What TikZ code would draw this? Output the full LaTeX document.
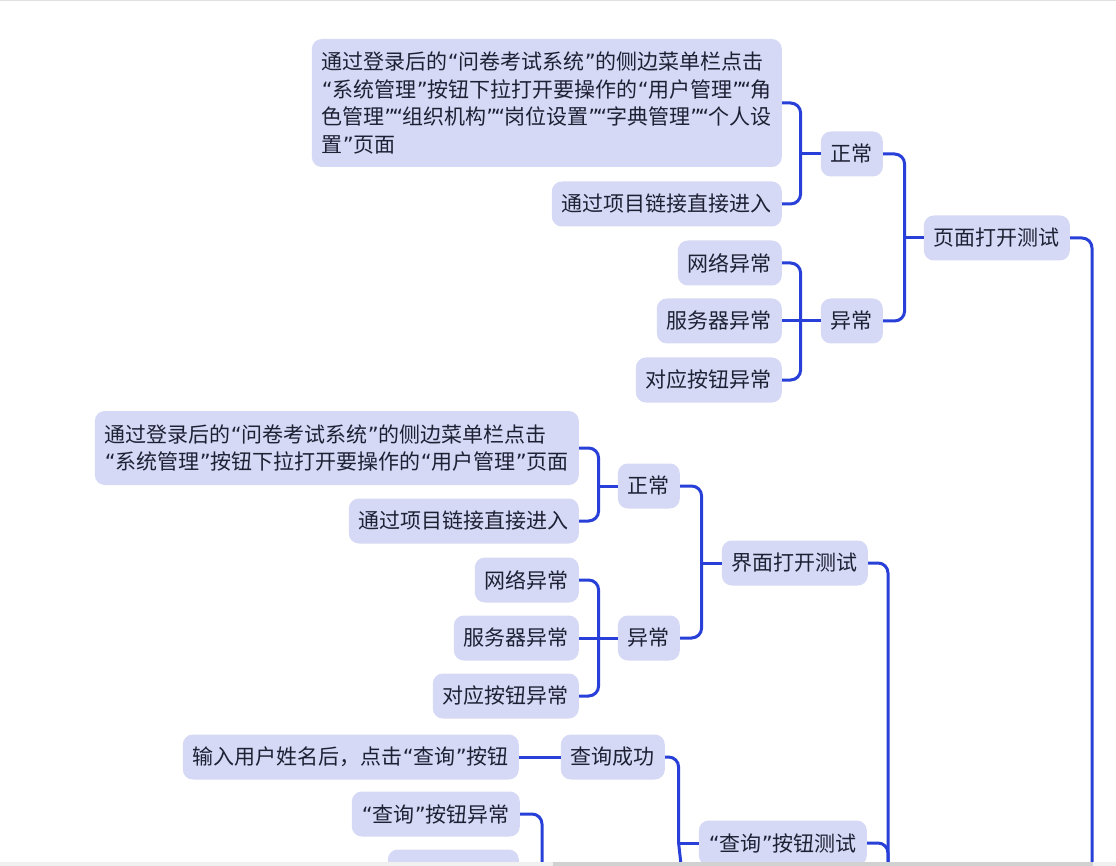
\documentclass[tikz,border=0pt]{standalone}
\usepackage{fontspec}
\setmainfont{Noto Sans CJK SC}
\newfontfamily\quotefont{DejaVu Sans}
\usepackage{xcolor}

\definecolor{boxfill}{RGB}{213,217,245}
\definecolor{linkblue}{RGB}{40,64,216}
\definecolor{textdark}{RGB}{30,32,52}

% quotes as the page shows them
\newcommand{\oq}{\makebox[11pt][r]{\quotefont“}}
\newcommand{\cq}{\makebox[11pt][l]{\quotefont”}}
\newcommand{\cqoq}{\makebox[18pt][c]{\quotefont”\kern-3pt“}}

\begin{document}
\begin{tikzpicture}[x=1pt, y=-1pt,
    topic/.style={fill=boxfill, text=textdark, rounded corners=10pt,
        inner xsep=10pt, inner ysep=0pt, minimum height=45pt,
        font=\fontsize{21}{27.5}\selectfont, anchor=east},
    link/.style={draw=linkblue, line width=3pt, rounded corners=10pt}]

        % Frame
        \useasboundingbox (0,0) rectangle (1116,866);
        \clip (0,0) rectangle (1116,866);

        % 页面打开测试
        \node[topic, align=left, minimum width=466pt, minimum height=128pt] (ymzc1) at (782,103)
            {通过登录后的\oq 问卷考试系统\cq 的侧边菜单栏点击\\
             \oq 系统管理\cq 按钮下拉打开要操作的\oq 用户管理\cqoq 角\\
             色管理\cqoq 组织机构\cqoq 岗位设置\cqoq 字典管理\cqoq 个人设\\
             置\cq 页面};
        \node[topic] (ymzc2) at (782,204) {通过项目链接直接进入};
        \node[topic] (ymzc) at (883,154) {正常};
        \node[topic] (ymyc1) at (782,263) {网络异常};
        \node[topic] (ymyc2) at (782,321) {服务器异常};
        \node[topic] (ymyc3) at (782,380) {对应按钮异常};
        \node[topic] (ymyc) at (883,321) {异常};
        \node[topic] (ym) at (1070,238) {页面打开测试};

        \coordinate (ymzcj) at ([xshift=-20pt]ymzc.west);
        \coordinate (ymycj) at ([xshift=-20pt]ymyc.west);
        \coordinate (ymj) at ([xshift=-19pt]ym.west);
        \coordinate (root) at (1092,900);

        \draw[link] (ymzcj) -- (ymzc.west);
        \draw[link] (ymzc1.east) -| (ymzcj);
        \draw[link] (ymzc2.east) -| (ymzcj);
        \draw[link] (ymycj) -- (ymyc.west);
        \draw[link] (ymyc1.east) -| (ymycj);
        \draw[link] (ymyc2.east) -- (ymycj);
        \draw[link] (ymyc3.east) -| (ymycj);
        \draw[link] (ymj) -- (ym.west);
        \draw[link] (ymzc.east) -| (ymj);
        \draw[link] (ymyc.east) -| (ymj);
        \draw[link] (ym.east) -| (root);

        % 界面打开测试
        \node[topic, align=left, minimum width=480pt, minimum height=74pt] (jmzc1) at (579,448)
            {通过登录后的\oq 问卷考试系统\cq 的侧边菜单栏点击\\
             \oq 系统管理\cq 按钮下拉打开要操作的\oq 用户管理\cq 页面};
        \node[topic] (jmzc2) at (579,521) {通过项目链接直接进入};
        \node[topic] (jmzc) at (680,486) {正常};
        \node[topic] (jmyc1) at (579,580) {网络异常};
        \node[topic] (jmyc2) at (579,638) {服务器异常};
        \node[topic] (jmyc3) at (579,696) {对应按钮异常};
        \node[topic] (jmyc) at (680,638) {异常};
        \node[topic] (jm) at (868,563) {界面打开测试};

        \coordinate (jmzcj) at ([xshift=-19pt]jmzc.west);
        \coordinate (jmycj) at ([xshift=-19pt]jmyc.west);
        \coordinate (jmj) at ([xshift=-20pt]jm.west);
        \coordinate (sub) at (888,900);

        \draw[link] (jmzcj) -- (jmzc.west);
        \draw[link] (jmzc1.east) -| (jmzcj);
        \draw[link] (jmzc2.east) -| (jmzcj);
        \draw[link] (jmycj) -- (jmyc.west);
        \draw[link] (jmyc1.east) -| (jmycj);
        \draw[link] (jmyc2.east) -- (jmycj);
        \draw[link] (jmyc3.east) -| (jmycj);
        \draw[link] (jmj) -- (jm.west);
        \draw[link] (jmzc.east) -| (jmj);
        \draw[link] (jmyc.east) -| (jmj);
        \draw[link] (jm.east) -| (sub);

        % “查询”按钮测试
        \node[topic] (cgsr) at (519,757) {输入用户姓名后，点击\oq 查询\cq 按钮};
        \node[topic] (cg) at (665,757) {查询成功};
        \node[topic] (cx) at (867,843) {\oq 查询\cq 按钮测试};
        \node[topic] (cxyc1) at (520,814) {\oq 查询\cq 按钮异常};
        \node[topic, minimum width=131pt] (cxyc2) at (519,872) {};

        \coordinate (cxj) at ([xshift=-20pt]cx.west);
        \coordinate (cxsb) at (685,900);
        \coordinate (cxycj) at (542,900);

        \draw[link] (cgsr.east) -- (cg.west);
        \draw[link] (cxj) -- (cx.west);
        \draw[link] (cg.east) -| (cxj);
        \draw[link] (cxj) -- (cxsb);
        \draw[link] (cxyc1.east) -| (cxycj);
        \draw[link] (cx.east) -| (sub);

        % Window edges
        \fill[black!12] (0,0) rectangle (1116,1.5);
        \fill[black!6] (0,862) rectangle (1116,866);
        \fill[black!18] (553,862) rectangle (1093,866);

    \end{tikzpicture}
\end{document}
